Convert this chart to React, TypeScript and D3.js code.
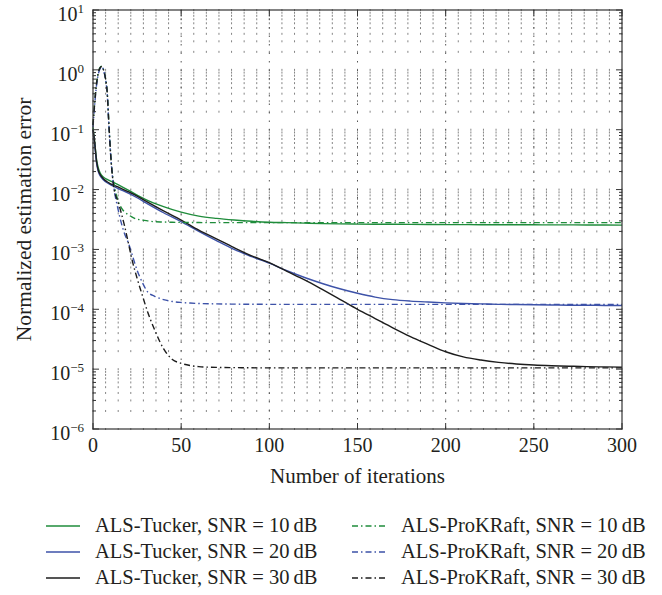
import { useEffect, useRef } from 'react';
import * as d3 from 'd3';

// Normalized estimation error vs. number of iterations (log y)

const W = 662;
const H = 595;
const FONT = '"Liberation Serif", "DejaVu Serif", serif';

const COLORS = {
  green: '#1f8c3b',
  blue: '#3d52a8',
  black: '#1c1c1c',
  grid: '#858585',
  axis: '#333333',
  text: '#231f20',
};

// Tucker runs share one iteration grid
const tuckerIters = [0, 1, 2, 3, 4, 6, 8, 10, 15, 20, 25, 30, 40, 50, 60, 70, 80, 90, 100, 110, 120, 130, 140,
  150, 160, 170, 180, 190, 200, 210, 220, 230, 240, 250, 260, 270, 280, 290, 300];

const tucker10 = [0.11, 0.06, 0.032, 0.023, 0.019, 0.016, 0.0148, 0.0138, 0.0118, 0.0098, 0.0081, 0.0068,
  0.0052, 0.0042, 0.0036, 0.0033, 0.0031, 0.00295, 0.00285, 0.0028, 0.00275, 0.0027, 0.00267, 0.00265,
  0.00264, 0.00263, 0.00262, 0.00261, 0.0026, 0.0026, 0.00259, 0.00259, 0.00258, 0.00258, 0.00257,
  0.00257, 0.00256, 0.00256, 0.00255];

const tucker20 = [0.1, 0.055, 0.028, 0.02, 0.017, 0.0145, 0.013, 0.012, 0.0102, 0.0087, 0.0073, 0.006,
  0.0041, 0.0029, 0.002, 0.0014, 0.001, 7.6e-4, 5.9e-4, 4.4e-4, 3.4e-4, 2.7e-4, 2.2e-4, 1.85e-4, 1.6e-4,
  1.45e-4, 1.37e-4, 1.32e-4, 1.28e-4, 1.25e-4, 1.23e-4, 1.21e-4, 1.2e-4, 1.19e-4, 1.18e-4, 1.17e-4,
  1.17e-4, 1.16e-4, 1.16e-4];

const tucker30 = [0.1, 0.06, 0.03, 0.021, 0.018, 0.015, 0.0135, 0.0125, 0.0108, 0.0092, 0.0078, 0.0064,
  0.0044, 0.0031, 0.0021, 0.0015, 0.00107, 7.8e-4, 6.0e-4, 4.3e-4, 3.1e-4, 2.15e-4, 1.47e-4, 1.0e-4, 7.0e-5,
  4.9e-5, 3.5e-5, 2.6e-5, 1.95e-5, 1.6e-5, 1.42e-5, 1.3e-5, 1.22e-5, 1.17e-5, 1.14e-5, 1.12e-5, 1.1e-5,
  1.09e-5, 1.08e-5];

// ProKRaft runs
const prokIters = [0, 2, 4, 5, 6, 7, 8, 9, 10, 11, 12, 14, 16, 18, 20, 22, 25, 28, 31, 35, 40, 45, 50, 55, 60,
  70, 80, 100, 150, 200, 250, 300];

const prok10 = [0.12, 0.6, 1.1, 1.15, 1.0, 0.75, 0.45, 0.13, 0.04, 0.018, 0.012,
  0.0068, 0.005, 0.0042, 0.0038, 0.0035, 0.0032, 0.0031, 0.003, 0.0029, 0.00287, 0.00284, 0.00283,
  0.00282, 0.00281, 0.0028, 0.0028, 0.0028, 0.0028, 0.0028, 0.0028, 0.0028];

const prok20 = [0.11, 0.55, 1.05, 1.12, 0.98, 0.72, 0.42, 0.12, 0.038, 0.017, 0.01,
  0.005, 0.0028, 0.0018, 0.0013, 8.5e-4, 4.5e-4, 2.8e-4, 1.95e-4, 1.65e-4, 1.45e-4, 1.35e-4, 1.3e-4,
  1.27e-4, 1.25e-4, 1.23e-4, 1.22e-4, 1.21e-4, 1.21e-4, 1.21e-4, 1.21e-4, 1.21e-4];

const prok30 = [0.12, 0.58, 1.08, 1.14, 0.99, 0.74, 0.44, 0.125, 0.039, 0.017, 0.01,
  0.0065, 0.0041, 0.0024, 0.0013, 7e-4, 3.3e-4, 1.7e-4, 9e-5, 4.5e-5, 2.2e-5, 1.45e-5, 1.25e-5,
  1.15e-5, 1.1e-5, 1.07e-5, 1.06e-5, 1.05e-5, 1.05e-5, 1.05e-5, 1.05e-5, 1.05e-5];

const xTicks = [0, 50, 100, 150, 200, 250, 300];
const yExponents = [1, 0, -1, -2, -3, -4, -5, -6];

const SERIES = [
  { label: 'ALS-Tucker, SNR = 10\u2009dB', iters: tuckerIters, values: tucker10, color: COLORS.green, dash: null },
  { label: 'ALS-Tucker, SNR = 20\u2009dB', iters: tuckerIters, values: tucker20, color: COLORS.blue, dash: null },
  { label: 'ALS-Tucker, SNR = 30\u2009dB', iters: tuckerIters, values: tucker30, color: COLORS.black, dash: null },
  { label: 'ALS-ProKRaft, SNR = 10\u2009dB', iters: prokIters, values: prok10, color: COLORS.green, dash: '6,3,1.5,3' },
  { label: 'ALS-ProKRaft, SNR = 20\u2009dB', iters: prokIters, values: prok20, color: COLORS.blue, dash: '6,3,1.5,3' },
  { label: 'ALS-ProKRaft, SNR = 30\u2009dB', iters: prokIters, values: prok30, color: COLORS.black, dash: '6,3,1.5,3' },
];

export default function App() {
  const svgRef = useRef<SVGSVGElement | null>(null);

  useEffect(() => {
    if (!svgRef.current) return;
    const svg = d3.select(svgRef.current);
    svg.selectAll('*').remove();

    const left = 93, right = 622, top = 10, bottom = 429;

    const x = d3.scaleLinear().domain([0, 300]).range([left, right]);
    const y = d3.scaleLog().domain([1e-6, 10]).range([bottom, top]);

    // dotted grid: dots where minor x lines cross the log rows
    const xGrid = d3.range(0, 43).map(k => (k * 50) / 7);
    const yGrid: number[] = [];
    for (let d = -6; d <= 0; d++) {
      for (let m = 1; m <= 9; m++) yGrid.push(m * Math.pow(10, d));
    }
    yGrid.push(10);

    const cells: [number, number][] = [];
    xGrid.forEach(gx => yGrid.forEach(gy => cells.push([gx, gy])));

    const gridG = svg.append('g');
    gridG.selectAll('rect')
      .data(cells)
      .join('rect')
      .attr('x', d => x(d[0]) - 0.5)
      .attr('y', d => y(d[1]) - 1)
      .attr('width', 1)
      .attr('height', 2)
      .attr('fill', COLORS.grid);

    gridG.selectAll('line')
      .data(xTicks.slice(1, -1))
      .join('line')
      .attr('x1', d => x(d)).attr('x2', d => x(d))
      .attr('y1', top).attr('y2', bottom)
      .attr('stroke', '#555')
      .attr('stroke-width', 1)
      .attr('stroke-dasharray', '1.5,7');

    // curves
    const line = d3.line<[number, number]>()
      .x(d => x(d[0]))
      .y(d => y(d[1]))
      .curve(d3.curveMonotoneX);

    SERIES.forEach(s => {
      const pts = s.iters.map((n, i) => [n, s.values[i]] as [number, number]);
      svg.append('path')
        .datum(pts)
        .attr('d', line)
        .attr('fill', 'none')
        .attr('stroke', s.color)
        .attr('stroke-width', 1.4)
        .attr('stroke-dasharray', s.dash);
    });

    // axis box
    svg.append('rect')
      .attr('x', left).attr('y', top)
      .attr('width', right - left).attr('height', bottom - top)
      .attr('fill', 'none')
      .attr('stroke', COLORS.axis)
      .attr('stroke-width', 1.2);

    // x ticks (inside, top and bottom)
    const tickG = svg.append('g').attr('stroke', COLORS.axis).attr('stroke-width', 1);
    xTicks.forEach(t => {
      tickG.append('line').attr('x1', x(t)).attr('x2', x(t)).attr('y1', bottom).attr('y2', bottom - 6);
      tickG.append('line').attr('x1', x(t)).attr('x2', x(t)).attr('y1', top).attr('y2', top + 6);
    });
    // y ticks, major and minor
    yGrid.forEach(v => {
      const major = Math.abs(Math.log10(v) - Math.round(Math.log10(v))) < 1e-9;
      const len = major ? 6 : 3;
      tickG.append('line').attr('x1', left).attr('x2', left + len).attr('y1', y(v)).attr('y2', y(v));
      tickG.append('line').attr('x1', right).attr('x2', right - len).attr('y1', y(v)).attr('y2', y(v));
    });

    // tick labels
    svg.append('g')
      .selectAll('text')
      .data(xTicks)
      .join('text')
      .attr('x', d => x(d))
      .attr('y', bottom + 23)
      .attr('text-anchor', 'middle')
      .style('font-family', FONT)
      .style('font-size', '20px')
      .style('fill', COLORS.text)
      .text(d => String(d));

    const yl = svg.append('g')
      .selectAll('text')
      .data(yExponents)
      .join('text')
      .attr('x', left - 9)
      .attr('y', d => y(Math.pow(10, d)) + 11)
      .attr('text-anchor', 'end')
      .style('font-family', FONT)
      .style('font-size', '20px')
      .style('fill', COLORS.text);
    yl.append('tspan').text('10');
    yl.append('tspan')
      .attr('dy', -8)
      .style('font-size', '13px')
      .text(d => (d < 0 ? '\u2212' + Math.abs(d) : String(d)));

    // axis titles
    svg.append('text')
      .attr('x', (left + right) / 2)
      .attr('y', 483)
      .attr('text-anchor', 'middle')
      .style('font-family', FONT)
      .style('font-size', '21px')
      .style('fill', COLORS.text)
      .text('Number of iterations');

    svg.append('text')
      .attr('transform', `translate(31,${(top + bottom) / 2}) rotate(-90)`)
      .attr('text-anchor', 'middle')
      .style('font-family', FONT)
      .style('font-size', '21.5px')
      .style('fill', COLORS.text)
      .text('Normalized estimation error');

    // legend: two columns, three rows
    SERIES.forEach((s, i) => {
      const col = Math.floor(i / 3);
      const row = i % 3;
      const lx = col === 0 ? 46 : 352;
      const ly = 526 + row * 26;
      svg.append('line')
        .attr('x1', lx).attr('x2', lx + 34)
        .attr('y1', ly).attr('y2', ly)
        .attr('stroke', s.color)
        .attr('stroke-width', 1.4)
        .attr('stroke-dasharray', s.dash);
      svg.append('text')
        .attr('x', lx + 49)
        .attr('y', ly + 6)
        .style('font-family', FONT)
        .style('font-size', '20.5px')
        .style('fill', COLORS.text)
        .text(s.label);
    });
  }, []);

  return (
    <svg ref={svgRef} width={W} height={H}
      style={{ position: 'absolute', left: 0, top: 0, background: '#fff' }} />
  );
}
